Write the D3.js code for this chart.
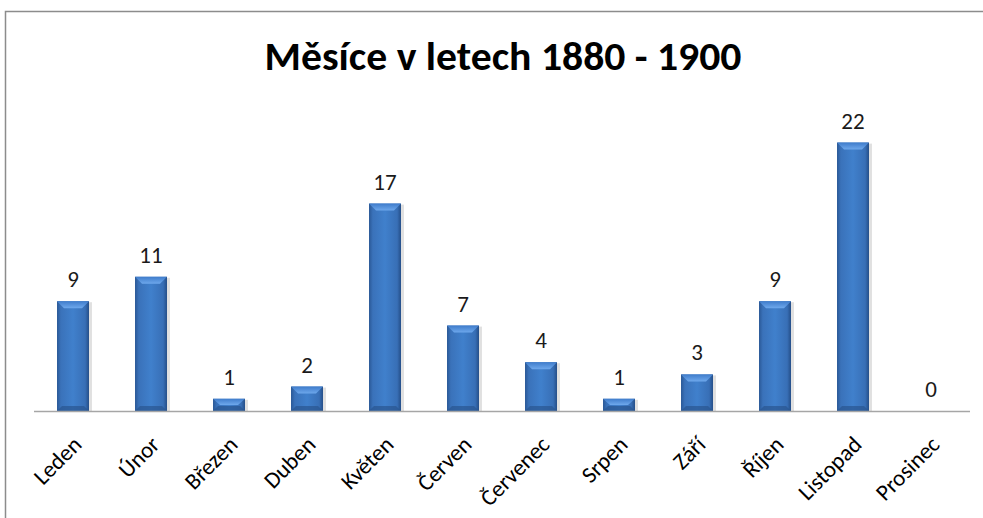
<!DOCTYPE html>
<html>
<head>
<meta charset="utf-8">
<script src="https://cdn.jsdelivr.net/npm/d3@7"></script>
<style>
  body { margin: 0; background: #fff; }
  text { font-family: Carlito, Calibri, "Open Sans", sans-serif; }
</style>
</head>
<body>
<div id="chart"></div>
<script>
var months = ["Leden", "Únor", "Březen", "Duben", "Květen", "Červen",
  "Červenec", "Srpen", "Září", "Říjen", "Listopad", "Prosinec"];
var counts = [9, 11, 1, 2, 17, 7, 4, 1, 3, 9, 22, 0];
var chartTitle = "Měsíce v letech 1880 - 1900";

var width = 983,
  height = 518;

var svg = d3.select("#chart")
  .append("svg")
  .attr("width", width)
  .attr("height", height);

// chart frame (only top and left edges are visible)
svg.append("path")
  .attr("d", "M5.5," + height + "V11.5H" + width)
  .attr("fill", "none")
  .attr("stroke", "#8c8c8c")
  .attr("stroke-width", 1.5);

var defs = svg.append("defs");
var grad = defs.append("linearGradient")
  .attr("id", "barGrad")
  .attr("x1", "0").attr("x2", "1").attr("y1", "0").attr("y2", "0");
grad.append("stop").attr("offset", "0").attr("stop-color", "#2a5896");
grad.append("stop").attr("offset", "0.12").attr("stop-color", "#3a72ba");
grad.append("stop").attr("offset", "0.5").attr("stop-color", "#4080cc");
grad.append("stop").attr("offset", "0.88").attr("stop-color", "#386fb6");
grad.append("stop").attr("offset", "1").attr("stop-color", "#244e88");

var topGrad = defs.append("linearGradient")
  .attr("id", "topGrad")
  .attr("x1", "0").attr("x2", "0").attr("y1", "0").attr("y2", "1");
topGrad.append("stop").attr("offset", "0").attr("stop-color", "#3f7ccb");
topGrad.append("stop").attr("offset", "1").attr("stop-color", "#6ea8ec");

var x = d3.scaleBand()
  .domain(months)
  .range([34, 970])
  .paddingInner(0.59)
  .paddingOuter(0.295);

var y = d3.scaleLinear()
  .domain([0, 25])
  .range([411, 106]);

// title
svg.append("text")
  .attr("x", 503)
  .attr("y", 70)
  .attr("text-anchor", "middle")
  .attr("font-size", "40px")
  .attr("font-weight", "bold")
  .attr("fill", "#000")
  .attr("textLength", 477)
  .attr("lengthAdjust", "spacingAndGlyphs")
  .text(chartTitle);

var bars = svg.selectAll(".bar")
  .data(months)
  .enter().append("g")
  .attr("class", "bar");

// shadow
bars.filter(function(d, i) { return counts[i] > 0; })
  .append("rect")
  .attr("x", function(d) { return x(d) + 1; })
  .attr("y", function(d, i) { return y(counts[i]) + 1; })
  .attr("width", x.bandwidth() + 2)
  .attr("height", function(d, i) { return y(0) - y(counts[i]); })
  .attr("fill", "#000")
  .attr("opacity", 0.12);

bars.filter(function(d, i) { return counts[i] > 0; })
  .append("rect")
  .attr("x", function(d) { return x(d); })
  .attr("y", function(d, i) { return y(counts[i]); })
  .attr("width", x.bandwidth())
  .attr("height", function(d, i) { return y(0) - y(counts[i]); })
  .attr("fill", "url(#barGrad)");

// top bevel
bars.filter(function(d, i) { return counts[i] > 0; })
  .append("path")
  .attr("d", function(d, i) {
    var x0 = x(d), x1 = x(d) + x.bandwidth(), t = y(counts[i]);
    var b = Math.min(7, (y(0) - t) / 2);
    return "M" + x0 + "," + t + "H" + x1 + "L" + (x1 - 7) + "," + (t + b) +
      "H" + (x0 + 7) + "Z";
  })
  .attr("fill", "url(#topGrad)");

// bottom bevel
bars.filter(function(d, i) { return counts[i] > 0; })
  .append("path")
  .attr("d", function(d, i) {
    var x0 = x(d), x1 = x(d) + x.bandwidth(), bt = y(0);
    var b = Math.min(5, (y(0) - y(counts[i])) / 2);
    return "M" + x0 + "," + bt + "H" + x1 + "L" + (x1 - 5) + "," + (bt - b) +
      "H" + (x0 + 5) + "Z";
  })
  .attr("fill", "#2a5690")
  .attr("opacity", 0.7);

// axis line
svg.append("line")
  .attr("x1", 34).attr("x2", 970)
  .attr("y1", y(0) + 0.5).attr("y2", y(0) + 0.5)
  .attr("stroke", "#a6a6a6")
  .attr("stroke-width", 1.5);

// value labels
svg.selectAll(".value")
  .data(months)
  .enter().append("text")
  .attr("class", "value")
  .attr("x", function(d) { return x(d) + x.bandwidth() / 2; })
  .attr("y", function(d, i) { return y(counts[i]) - 14; })
  .attr("text-anchor", "middle")
  .attr("font-size", "23px")
  .attr("fill", "#1a1a1a")
  .text(function(d, i) { return counts[i]; });

// category labels
svg.selectAll(".cat")
  .data(months)
  .enter().append("text")
  .attr("class", "cat")
  .attr("text-anchor", "end")
  .attr("font-size", "23px")
  .attr("fill", "#000")
  .attr("transform", function(d) {
    return "translate(" + (x(d) + x.bandwidth() / 2 + 10) + ",446) rotate(-45)";
  })
  .text(function(d) { return d; });
</script>
</body>
</html>
